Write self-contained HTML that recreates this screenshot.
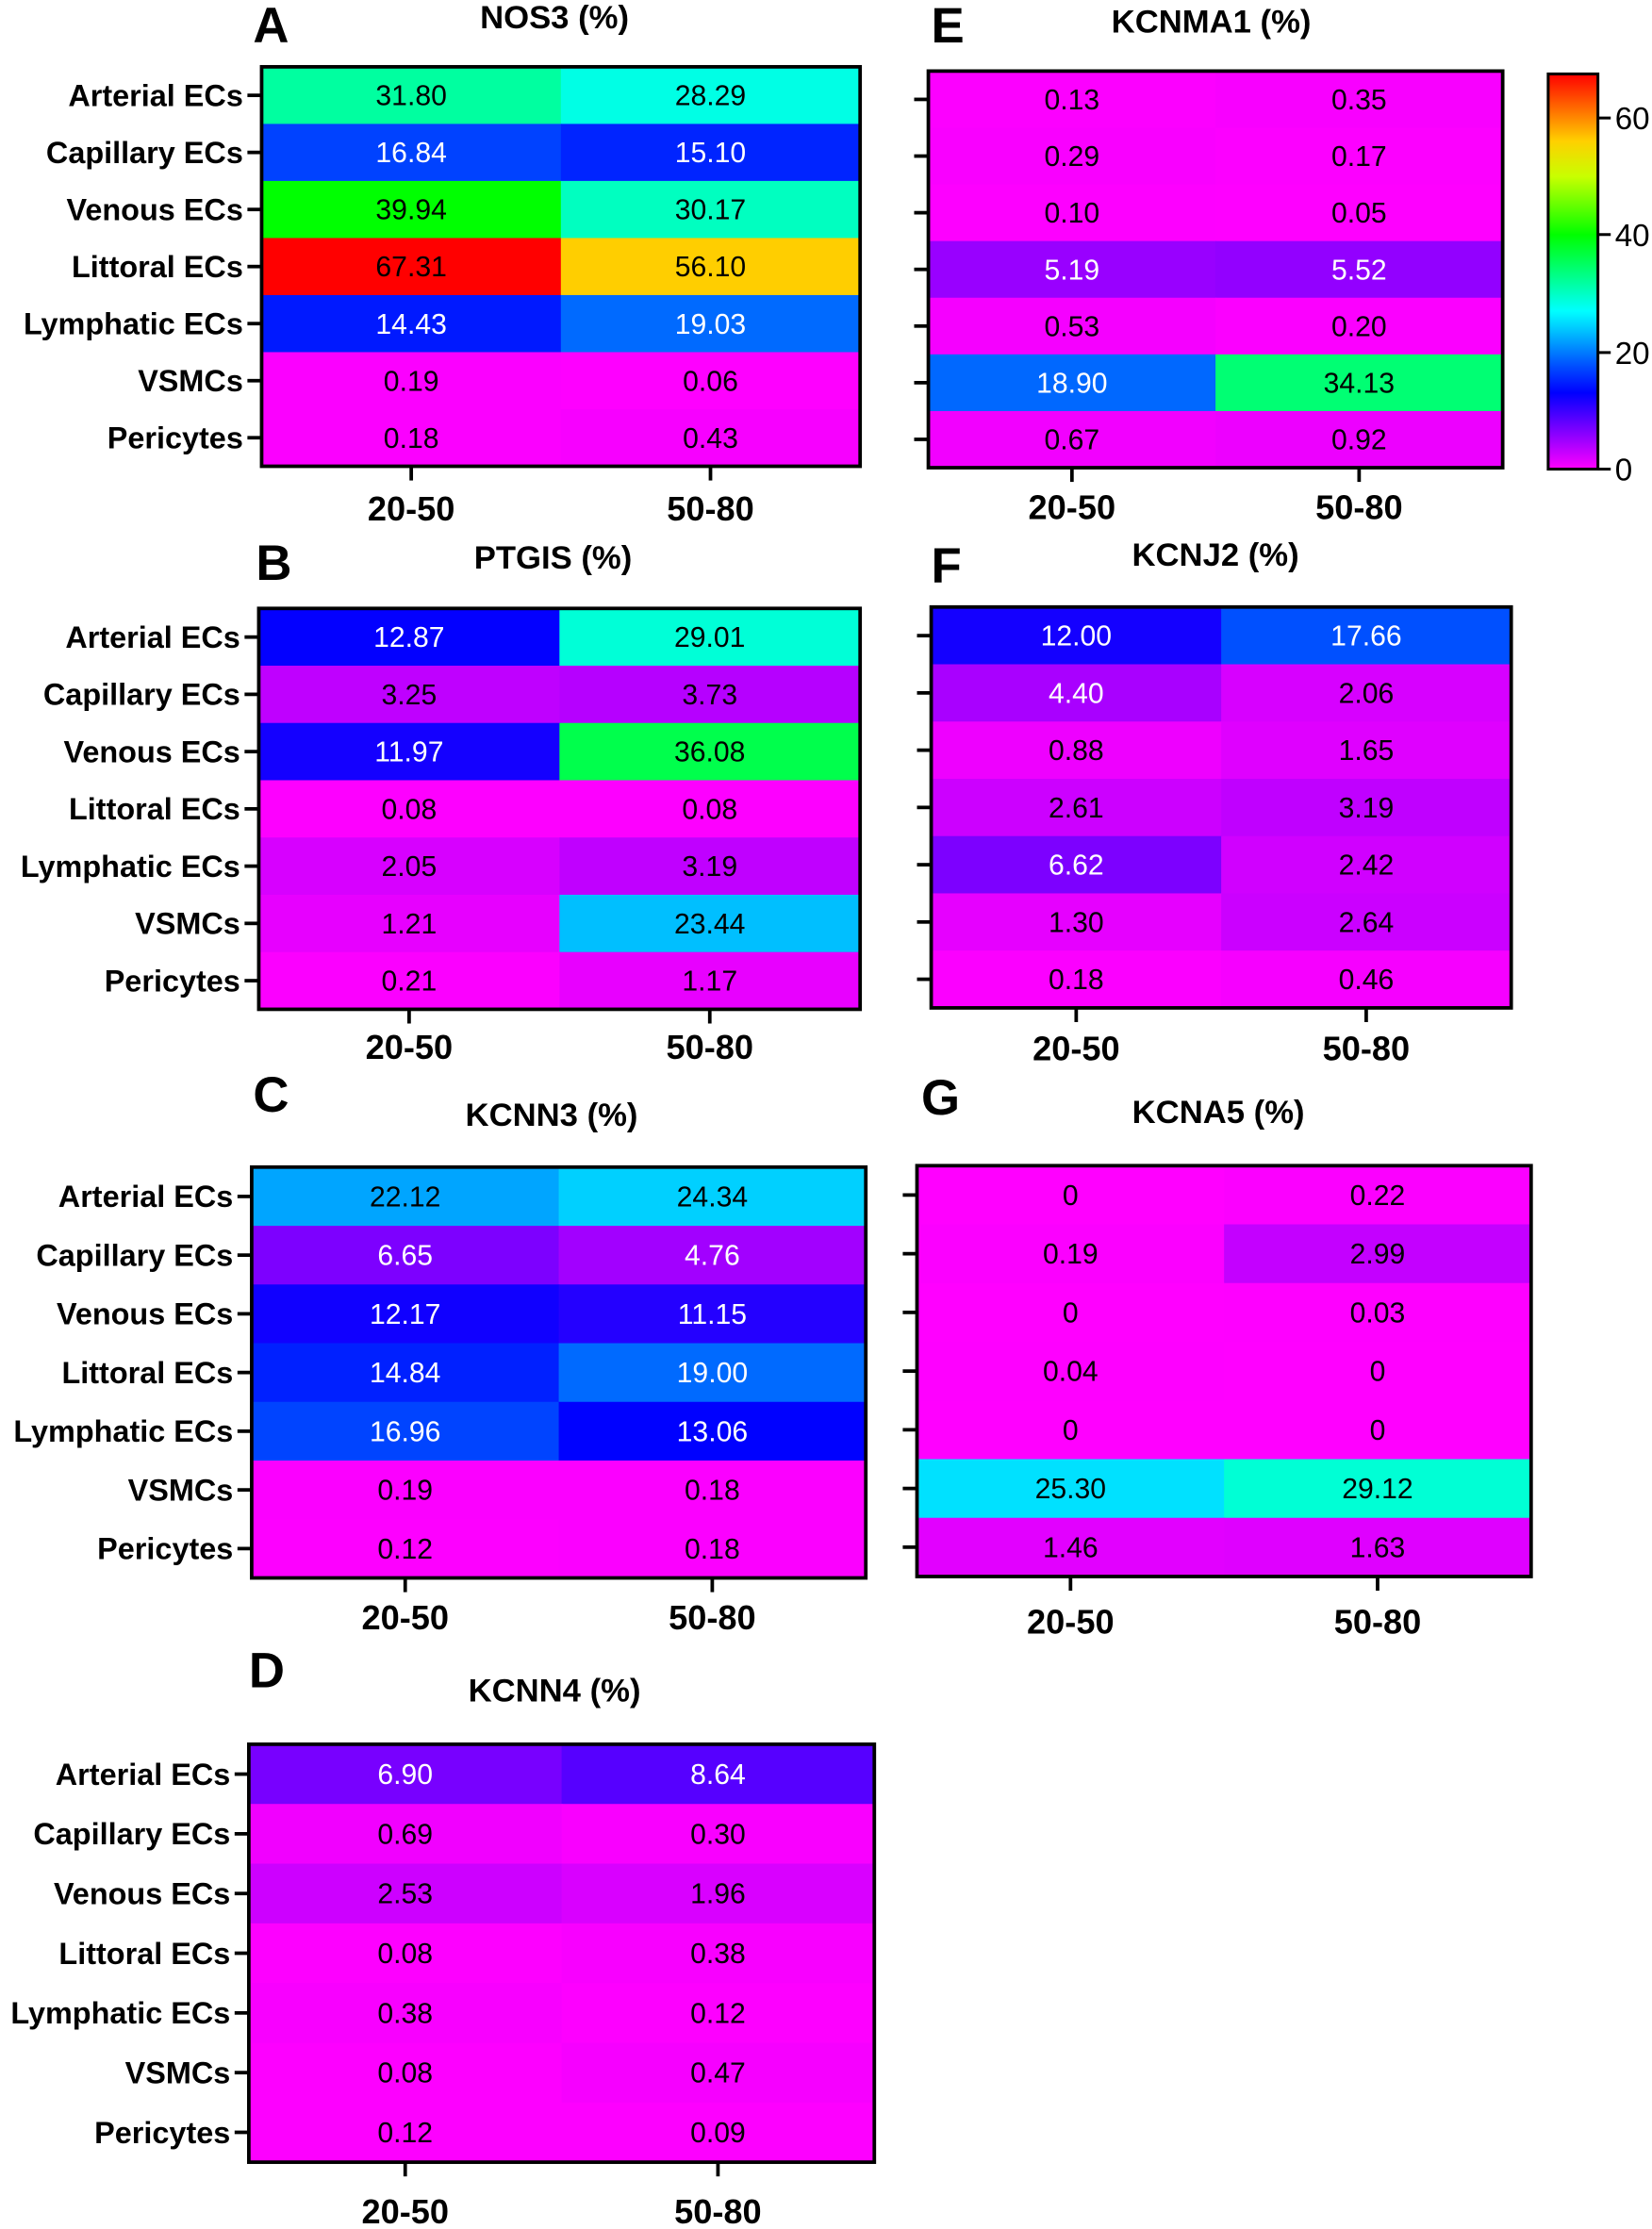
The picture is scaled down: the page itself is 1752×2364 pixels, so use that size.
<!DOCTYPE html>
<html><head><meta charset="utf-8"><style>
html,body{margin:0;padding:0;background:#fff;}
svg{display:block;}
text{font-family:"Liberation Sans",Arial,sans-serif;}
</style></head><body>
<svg id="s" width="1752" height="2364" viewBox="0 0 1162 1568" xmlns="http://www.w3.org/2000/svg">
<defs>
<linearGradient id="cb" x1="0" y1="1" x2="0" y2="0">
<stop offset="0" stop-color="#ff00ff"/>
<stop offset="0.193" stop-color="#0000ff"/>
<stop offset="0.262" stop-color="#0050ff"/>
<stop offset="0.361" stop-color="#00d0ff"/>
<stop offset="0.40" stop-color="#00ffff"/>
<stop offset="0.471" stop-color="#00ffa0"/>
<stop offset="0.593" stop-color="#00ff00"/>
<stop offset="0.74" stop-color="#c8ff00"/>
<stop offset="0.83" stop-color="#ffd000"/>
<stop offset="1" stop-color="#ff0000"/>
</linearGradient>
</defs>
</svg>
<script>
var stops=[[0,255,0,255],[13,0,0,255],[17.66,0,80,255],[24.34,0,208,255],[27,0,255,255],[31.8,0,255,160],[40,0,255,0],[50,200,255,0],[56,255,208,0],[67.3,255,0,0]];
function col(v){for(var i=1;i<stops.length;i++){if(v<=stops[i][0]){var a=stops[i-1],b=stops[i],t=(v-a[0])/(b[0]-a[0]);return 'rgb('+[1,2,3].map(function(k){return Math.round(a[k]+(b[k]-a[k])*t)}).join(',')+')';}}return 'rgb(255,0,0)';}
var rows=["Arterial ECs","Capillary ECs","Venous ECs","Littoral ECs","Lymphatic ECs","VSMCs","Pericytes"];
var P=[
{x0:184,x1:605,y0:47,y1:328,t:"NOS3 (%)",tx:390,ty:20,L:"A",lx:178,ly:30,xl:366,lab:1,d:[[31.80,28.29],[16.84,15.10],[39.94,30.17],[67.31,56.10],[14.43,19.03],[0.19,0.06],[0.18,0.43]]},
{x0:182,x1:605,y0:428,y1:710,t:"PTGIS (%)",tx:389,ty:400,L:"B",lx:180,ly:408,xl:745,lab:1,d:[[12.87,29.01],[3.25,3.73],[11.97,36.08],[0.08,0.08],[2.05,3.19],[1.21,23.44],[0.21,1.17]]},
{x0:177,x1:609,y0:821,y1:1110,t:"KCNN3 (%)",tx:388,ty:792,L:"C",lx:178,ly:782,xl:1146,lab:1,d:[[22.12,24.34],[6.65,4.76],[12.17,11.15],[14.84,19.00],[16.96,13.06],[0.19,0.18],[0.12,0.18]]},
{x0:175,x1:615,y0:1227,y1:1521,t:"KCNN4 (%)",tx:390,ty:1197,L:"D",lx:175,ly:1187,xl:1564,lab:1,d:[[6.90,8.64],[0.69,0.30],[2.53,1.96],[0.08,0.38],[0.38,0.12],[0.08,0.47],[0.12,0.09]]},
{x0:653,x1:1057,y0:50,y1:329,t:"KCNMA1 (%)",tx:852,ty:23,L:"E",lx:655,ly:30,xl:365,lab:0,d:[[0.13,0.35],[0.29,0.17],[0.10,0.05],[5.19,5.52],[0.53,0.20],[18.90,34.13],[0.67,0.92]]},
{x0:655,x1:1063,y0:427,y1:709,t:"KCNJ2 (%)",tx:855,ty:398,L:"F",lx:655,ly:410,xl:746,lab:0,d:[[12.00,17.66],[4.40,2.06],[0.88,1.65],[2.61,3.19],[6.62,2.42],[1.30,2.64],[0.18,0.46]]},
{x0:645,x1:1077,y0:820,y1:1109,t:"KCNA5 (%)",tx:857,ty:790,L:"G",lx:648,ly:784,xl:1149,lab:0,d:[[0,0.22],[0.19,2.99],[0,0.03],[0.04,0],[0,0],[25.30,29.12],[1.46,1.63]]}
];
function fmt(v){return v===0?"0":v.toFixed(2);}
var h='';
P.forEach(function(p){
 var w=(p.x1-p.x0)/2,rh=(p.y1-p.y0)/7;
 for(var r=0;r<7;r++)for(var c=0;c<2;c++){var v=p.d[r][c];
  h+='<rect x="'+(p.x0+c*w)+'" y="'+(p.y0+r*rh)+'" width="'+(w+0.6)+'" height="'+(rh+0.6)+'" fill="'+col(v)+'"/>';
  var tc=(v>=4&&v<21)?'#fff':'#000';
  h+='<text x="'+(p.x0+c*w+w/2)+'" y="'+(p.y0+r*rh+rh/2+7)+'" font-size="20" text-anchor="middle" fill="'+tc+'">'+fmt(v)+'</text>';}
 h+='<rect x="'+p.x0+'" y="'+p.y0+'" width="'+(p.x1-p.x0)+'" height="'+(p.y1-p.y0)+'" fill="none" stroke="#000" stroke-width="2.5"/>';
 for(var r=0;r<7;r++){var yy=p.y0+r*rh+rh/2;
  h+='<line x1="'+(p.x0-10)+'" y1="'+yy+'" x2="'+p.x0+'" y2="'+yy+'" stroke="#000" stroke-width="2.5"/>';
  if(p.lab)h+='<text x="'+(p.x0-13)+'" y="'+(yy+7.5)+'" font-size="21.5" font-weight="bold" text-anchor="end">'+rows[r]+'</text>';}
 ["20-50","50-80"].forEach(function(s,c){var xx=p.x0+c*w+w/2;
  h+='<line x1="'+xx+'" y1="'+p.y1+'" x2="'+xx+'" y2="'+(p.y1+10)+'" stroke="#000" stroke-width="2.5"/>';
  h+='<text x="'+xx+'" y="'+p.xl+'" font-size="24" font-weight="bold" text-anchor="middle">'+s+'</text>';});
 h+='<text x="'+p.tx+'" y="'+p.ty+'" font-size="23" font-weight="bold" text-anchor="middle">'+p.t+'</text>';
 h+='<text x="'+p.lx+'" y="'+p.ly+'" font-size="35" font-weight="bold">'+p.L+'</text>';
});
h+='<rect x="1089" y="52" width="35" height="278" fill="url(#cb)" stroke="#000" stroke-width="2"/>';
[[60,83],[40,165],[20,248],[0,330]].forEach(function(t){
 h+='<line x1="1124" y1="'+t[1]+'" x2="1133" y2="'+t[1]+'" stroke="#000" stroke-width="2"/>';
 h+='<text x="1136" y="'+(t[1]+8)+'" font-size="22">'+t[0]+'</text>';});
document.getElementById('s').insertAdjacentHTML('beforeend',h);
</script>
</body></html>
